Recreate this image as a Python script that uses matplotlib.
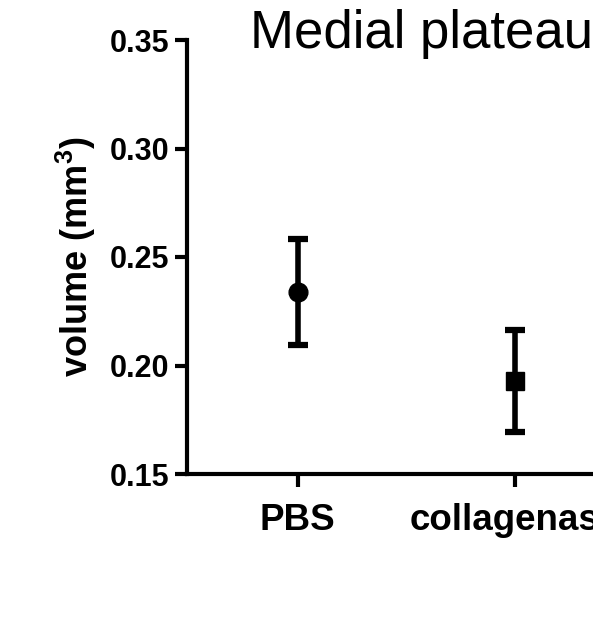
import matplotlib
matplotlib.use("Agg")
import matplotlib.pyplot as plt

categories = ["PBS", "collagenase"]
means = [0.234, 0.193]
err_upper = [0.2585, 0.2165]
err_lower = [0.2095, 0.1693]
markers = ["o", "s"]
yticks = [0.15, 0.20, 0.25, 0.30, 0.35]
ytick_labels = ["0.15", "0.20", "0.25", "0.30", "0.35"]
title = "Medial plateau"
ylabel = "volume (mm$^{\\mathbf{3}}$)"

plt.rcParams['font.family'] = ['Liberation Sans', 'DejaVu Sans']
plt.rcParams['mathtext.fontset'] = 'custom'
plt.rcParams['mathtext.rm'] = 'Liberation Sans'
plt.rcParams['mathtext.bf'] = 'Liberation Sans:bold'

fig = plt.figure(figsize=(5.93, 6.34), dpi=100)
W, H = 593, 634
left, right = 187, 623
bottom, top = 474, 40
ax = fig.add_axes([left / W, 1 - bottom / H, (right - left) / W, (bottom - top) / H])

xs = [1, 2]
for x, m, lo, hi, mk in zip(xs, means, err_lower, err_upper, markers):
    ax.errorbar([x], [m], yerr=[[m - lo], [hi - m]], fmt=mk, color='black',
                markersize=13.5, elinewidth=4, capsize=7.5, capthick=4.5,
                clip_on=False, zorder=3)

ax.set_xlim(0.49, 2.5)
ax.set_ylim(0.15, 0.35)
ax.set_xticks(xs)
ax.set_xticklabels(categories, fontsize=26.5, fontweight='bold')
ax.set_yticks(yticks)
ax.set_yticklabels(ytick_labels, fontsize=22, fontweight='bold')
ax.tick_params(axis='both', direction='out', length=9, width=3, pad=4)
ax.tick_params(axis='x', pad=12)
for s in ['top', 'right']:
    ax.spines[s].set_visible(False)
for s in ['left', 'bottom']:
    ax.spines[s].set_linewidth(3)
ax.set_ylabel(ylabel, fontsize=26, fontweight='bold', labelpad=8)
fig.text(250 / W, 1 - 48 / H, title, fontsize=38, ha='left', va='baseline')

fig.savefig("out.png", dpi=100)
